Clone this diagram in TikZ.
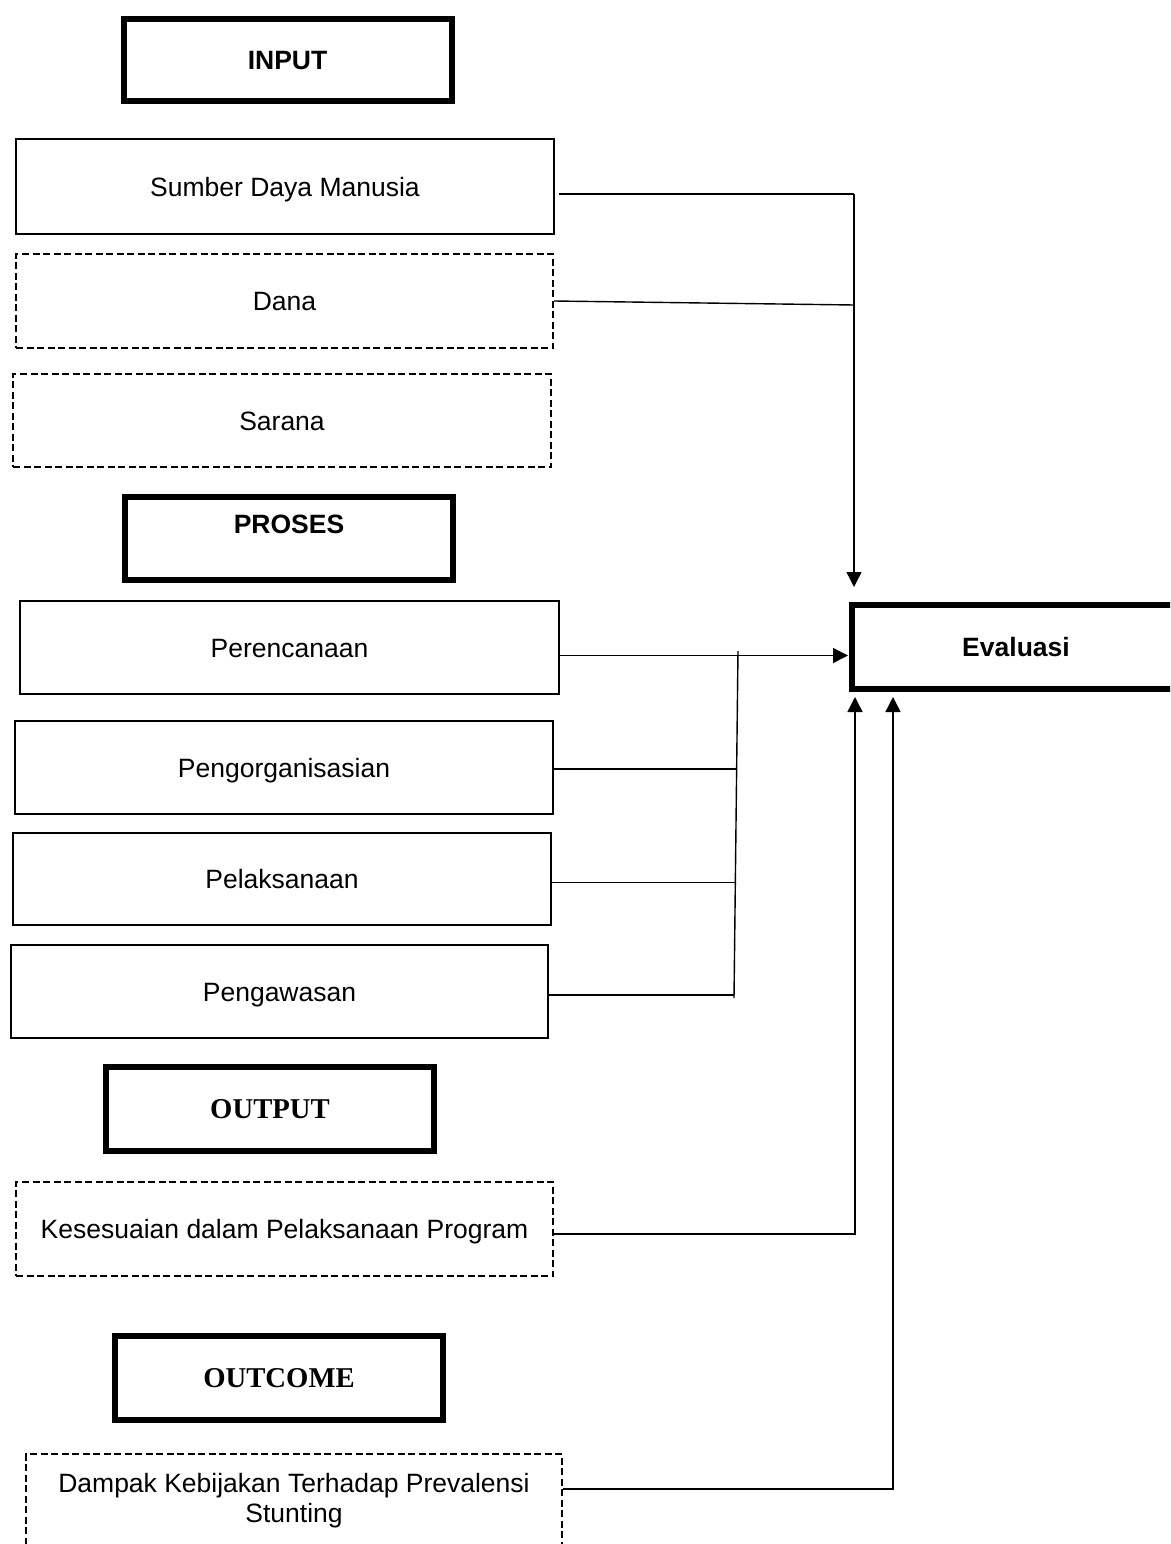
\documentclass[tikz,border=0pt]{standalone}
\usepackage{fontspec}
\setmainfont{Liberation Sans}
\newfontfamily\timesfont{Liberation Serif}
\usetikzlibrary{arrows.meta}
\begin{document}
\begin{tikzpicture}[x=1pt,y=-1pt,
  txt/.style={font=\fontsize{26.5}{30}\selectfont},
  thinbox/.style={draw, line width=2pt, inner sep=0pt, txt, align=center},
  dashbox/.style={thinbox, dash pattern=on 7pt off 3.5pt},
  oneline/.style={text height=22pt, text depth=3pt},
  thickbox/.style={draw, line width=6pt, inner sep=0pt, minimum width=328pt, minimum height=84pt},
  headA/.style={thickbox, oneline, font=\bfseries\fontsize{26.5}{30}\selectfont},
  headT/.style={thickbox, font=\timesfont\bfseries\fontsize{28.7}{32}\selectfont},
  conn/.style={line width=1.4pt},
  arr/.style={conn, -{Triangle[length=15pt,width=15pt]}}]
\useasboundingbox (0,0) rectangle (1170,1544);
\clip (0,0) rectangle (1170,1544);

% headings
\node[headA, minimum height=82pt] (input) at (287.5,60) {INPUT};
\node[thickbox, minimum height=83pt,
  label={[font=\bfseries\fontsize{26.5}{30}\selectfont, yshift=14pt]center:PROSES}] (proses) at (289,538.5) {};
\node[headT] (output) at (270,1109) {OUTPUT};
\node[headT] (outcome) at (279,1378) {OUTCOME};
\node[headA, minimum height=84pt] (evaluasi) at (1016,647) {Evaluasi};

% input boxes
\node[thinbox, oneline, minimum width=538pt, minimum height=95pt] (sumber) at (285,186.5) {Sumber Daya Manusia};
\node[dashbox, oneline, minimum width=537pt, minimum height=94pt] (dana) at (284.5,301) {Dana};
\node[dashbox, oneline, minimum width=538pt, minimum height=93pt] (sarana) at (282,420.5) {Sarana};

% process boxes
\node[thinbox, oneline, minimum width=539pt, minimum height=93pt] (perencanaan) at (289.5,647.5) {Perencanaan};
\node[thinbox, oneline, minimum width=538pt, minimum height=93pt] (pengorganisasian) at (284,767.5) {Pengorganisasian};
\node[thinbox, oneline, minimum width=538pt, minimum height=92pt] (pelaksanaan) at (282,879) {Pelaksanaan};
\node[thinbox, oneline, minimum width=537pt, minimum height=93pt] (pengawasan) at (279.5,991.5) {Pengawasan};

% output / outcome boxes
\node[dashbox, oneline, minimum width=537pt, minimum height=94pt] (kesesuaian) at (284.5,1229) {Kesesuaian dalam Pelaksanaan Program};
\node[dashbox, minimum width=536pt, minimum height=94pt] (dampak) at (294,1501) {Dampak Kebijakan Terhadap Prevalensi\\Stunting};

% junction coordinates
\coordinate (jA) at (854,194);
\coordinate (jB) at (854,305);
\coordinate (pl) at (700,655.5);
\coordinate (pA) at (738,651);
\coordinate (pB) at (734,998);
\coordinate (p2) at (737,769);
\coordinate (p3) at (736,882.5);
\coordinate (p4) at (734,995);
\coordinate (k1) at (855,1234);
\coordinate (d1) at (893,1489);

% input connectors
\draw[conn] ([xshift=4pt]sumber.east |- jA) -- (jA);
\draw[conn] (dana.east) -- (jB);
\draw[arr, shorten >=15pt] (jA) -- (jA |- evaluasi.north);

% process connectors
\draw[arr, shorten >=1pt] (perencanaan.east |- pl) -- (evaluasi.west |- pl);
\draw[conn] (pA) -- (pB);
\draw[conn] (pengorganisasian.east |- p2) -- (p2);
\draw[conn] (pelaksanaan.east |- p3) -- (p3);
\draw[conn] (pengawasan.east |- p4) -- (p4);

% output / outcome connectors
\draw[arr, shorten >=5pt] (kesesuaian.east |- k1) -- (k1) -- (k1 |- evaluasi.south);
\draw[arr, shorten >=5pt] (dampak.east |- d1) -- (d1) -- (d1 |- evaluasi.south);
\end{tikzpicture}
\end{document}
